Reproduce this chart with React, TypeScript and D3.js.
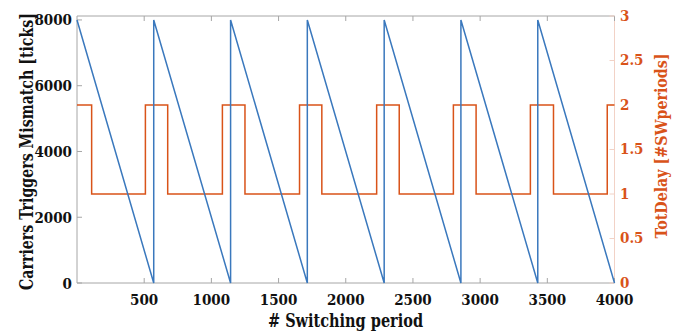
import React from "react";
import * as d3 from "d3";

const blueX = [0, 571, 571, 1143, 1143, 1714, 1714, 2286, 2286, 2857, 2857, 3429, 3429, 4000];
const blueY = [8000, 0, 8000, 0, 8000, 0, 8000, 0, 8000, 0, 8000, 0, 8000, 0];

const redX = [0, 109, 509, 675, 1082, 1250, 1656, 1822, 2230, 2398, 2801, 2970, 3374, 3546, 3946, 4000];
const redY = [2, 1, 2, 1, 2, 1, 2, 1, 2, 1, 2, 1, 2, 1, 2, 2];

const xTicks = [500, 1000, 1500, 2000, 2500, 3000, 3500, 4000];
const yLeftTicks = [0, 2000, 4000, 6000, 8000];
const yRightTicks = [0, 0.5, 1, 1.5, 2, 2.5, 3];

const xLabel = "# Switching period";
const yLeftLabel = "Carriers Triggers Mismatch [ticks]";
const yRightLabel = "TotDelay [#SWperiods]";

const W = 681, H = 334;
const L = 77, R = 614.5, T = 16, B = 283;
const BLUE = "#3a78bd";
const ORANGE = "#d95319";
const AXIS = "#a6a6a6";
const FONT = "DejaVu Serif Condensed, DejaVu Serif, serif";

export default function App() {
  const x = d3.scaleLinear().domain([0, 4000]).range([L, R]);
  const yL = d3.scaleLinear().domain([0, 8120]).range([B, T]);
  const yR = d3.scaleLinear().domain([0, 3]).range([B, T]);

  const blueLine = d3.line<number>().x((d, i) => x(blueX[i])).y((d) => yL(d));
  const redLine = d3.line<number>().x((d, i) => x(redX[i])).y((d) => yR(d)).curve(d3.curveStepAfter);

  return (
    <svg width={W} height={H} style={{ position: "absolute", left: 0, top: 0, background: "#fff" }}>
      <g style={{ fontFamily: FONT, fontWeight: 700, fontStretch: "condensed" }}>
        {/* frame */}
        <line x1={L} y1={T} x2={R} y2={T} stroke={AXIS} strokeWidth={1} />
        <line x1={L} y1={B} x2={R} y2={B} stroke={AXIS} strokeWidth={1} />
        <line x1={L} y1={T} x2={L} y2={B} stroke={AXIS} strokeWidth={1} />
        <line x1={R} y1={T} x2={R} y2={B} stroke="#f2d2c6" strokeWidth={1} />
        {/* x ticks */}
        {xTicks.map((t) => (
          <g key={"x" + t}>
            <line x1={x(t)} x2={x(t)} y1={B} y2={B - 5} stroke={AXIS} />
            <line x1={x(t)} x2={x(t)} y1={T} y2={T + 5} stroke={AXIS} />
            <text x={x(t)} y={305} textAnchor="middle" fontSize={15} fill="#111">{t}</text>
          </g>
        ))}
        {/* left ticks */}
        {yLeftTicks.map((t) => (
          <g key={"l" + t}>
            <line x1={L} x2={L + 5} y1={yL(t)} y2={yL(t)} stroke={AXIS} />
            <text x={72} y={yL(t) + 5.5} textAnchor="end" fontSize={15} fill="#111">{t}</text>
          </g>
        ))}
        {/* right ticks */}
        {yRightTicks.map((t) => (
          <g key={"r" + t}>
            <line x1={R} x2={R - 5} y1={yR(t)} y2={yR(t)} stroke="#f2d2c6" />
            <text x={620} y={yR(t) + 4.5} textAnchor="start" fontSize={15} fill={ORANGE}>{t}</text>
          </g>
        ))}
        {/* data */}
        <path d={redLine(redY) || ""} fill="none" stroke={ORANGE} strokeWidth={1.5} />
        <path d={blueLine(blueY) || ""} fill="none" stroke={BLUE} strokeWidth={1.5} />
        {/* labels */}
        <text x={345.5} y={326.5} textAnchor="middle" fontSize={19} fill="#111" textLength={155} lengthAdjust="spacingAndGlyphs">{xLabel}</text>
        <text transform={`translate(33,151.5) rotate(-90) scale(0.875,1)`} textAnchor="middle" fontSize={18} fill="#111">{yLeftLabel}</text>
        <text transform={`translate(667,146) rotate(-90)`} textAnchor="middle" fontSize={17} fill={ORANGE} textLength={185} lengthAdjust="spacingAndGlyphs">{yRightLabel}</text>
      </g>
    </svg>
  );
}
